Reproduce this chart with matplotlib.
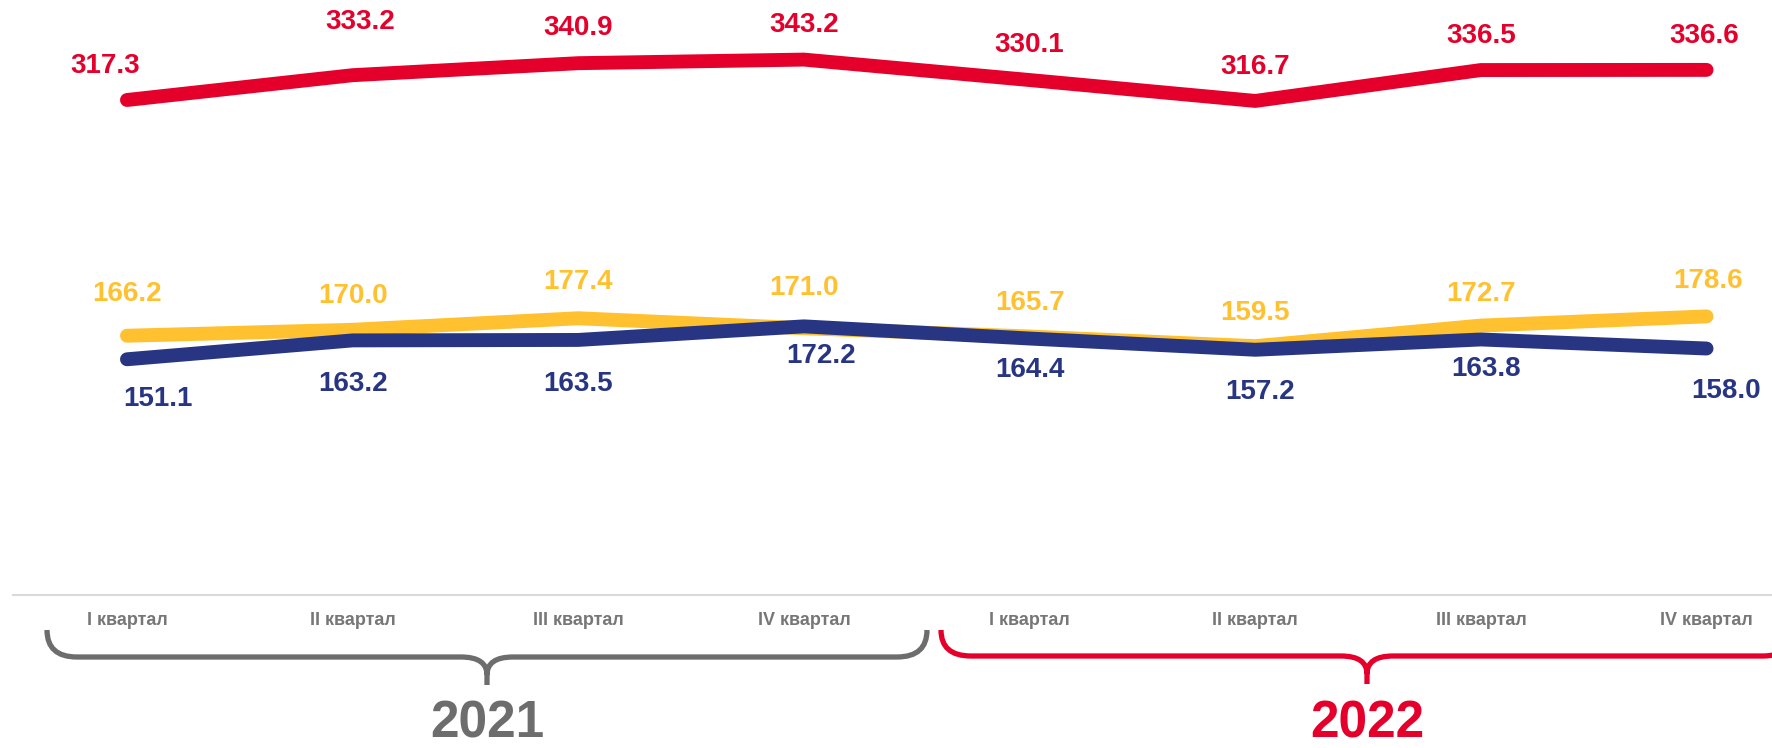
import matplotlib
matplotlib.use('Agg')
import matplotlib.pyplot as plt
from matplotlib.path import Path
from matplotlib.patches import PathPatch

plt.rcParams['font.family'] = ['Liberation Sans', 'DejaVu Sans']
plt.rcParams['font.weight'] = 'bold'

# data
quarters = ['I квартал', 'II квартал', 'III квартал', 'IV квартал',
            'I квартал', 'II квартал', 'III квартал', 'IV квартал']
years = ['2021', '2022']
red_vals = [317.3, 333.2, 340.9, 343.2, 330.1, 316.7, 336.5, 336.6]
yellow_vals = [166.2, 170.0, 177.4, 171.0, 165.7, 159.5, 172.7, 178.6]
blue_vals = [151.1, 163.2, 163.5, 172.2, 164.4, 157.2, 163.8, 158.0]

RED = '#E4002B'
YELLOW = '#FFC12F'
BLUE = '#283583'
GRAY = '#6D6D6D'

# label offsets in pixels (dx, dy), dy positive = up
red_off = [(-22, 34), (8, 53), (0, 35), (0, 35), (0, 35), (0, 34), (0, 34), (-2, 34)]
yellow_off = [(0, 42), (0, 34), (0, 36), (0, 40), (0, 34), (0, 33), (0, 32), (2, 35)]
blue_off = [(31, -40), (0, -44), (0, -44), (17, -30), (0, -31), (5, -42), (5, -30), (20, -42)]

fig = plt.figure(figsize=(17.72, 7.48), dpi=100)
ax = fig.add_axes([13 / 1772, 153 / 748, 1 - 13 / 1772, 595 / 748])

x = list(range(len(quarters)))
for vals, col, offs in [(red_vals, RED, red_off),
                        (yellow_vals, YELLOW, yellow_off),
                        (blue_vals, BLUE, blue_off)]:
    ax.plot(x, vals, color=col, lw=10, solid_capstyle='round',
            solid_joinstyle='round')
    for xi, v, (dx, dy) in zip(x, vals, offs):
        ax.annotate(f'{v:.1f}', (xi, v), xytext=(dx, dy),
                    textcoords='offset pixels', ha='center', va='center',
                    color=col, fontsize=20, fontweight='bold')

ax.set_xlim(-0.505, 7.29)
ax.set_ylim(0, 381.4)
ax.set_yticks([])
for s in ['top', 'right', 'left']:
    ax.spines[s].set_visible(False)
ax.spines['bottom'].set_color('#D9D9D9')
ax.spines['bottom'].set_linewidth(1.5)
ax.set_xticks(x)
ax.set_xticklabels(quarters, fontsize=13, color='#777777', fontweight='bold')
ax.tick_params(axis='x', length=0, pad=12)

# overlay in figure pixels for braces and year captions
ov = fig.add_axes([0, 0, 1, 1])
ov.set_xlim(0, 1772)
ov.set_ylim(748, 0)
ov.axis('off')


def brace(x0, x1, ytop, ybar, ytip, r=30, w=26, color=GRAY):
    xm = (x0 + x1) / 2
    verts = [(x0, ytop), (x0, ybar), (x0 + r, ybar),
             (xm - w, ybar),
             (xm, ybar), (xm, ytip - 10),
             (xm, ytip),
             (xm, ytip - 10),
             (xm, ybar), (xm + w, ybar),
             (x1 - r, ybar),
             (x1, ybar), (x1, ytop)]
    codes = [Path.MOVETO, Path.CURVE3, Path.CURVE3,
             Path.LINETO,
             Path.CURVE3, Path.CURVE3,
             Path.LINETO,
             Path.MOVETO,
             Path.CURVE3, Path.CURVE3,
             Path.LINETO,
             Path.CURVE3, Path.CURVE3]
    ov.add_patch(PathPatch(Path(verts, codes), fill=False, edgecolor=color,
                           lw=3.8, capstyle='butt', joinstyle='round'))
    return xm


m1 = brace(47, 927, 630, 657, 685, color=GRAY)
m2 = brace(941, 1793, 630, 656, 684, color=RED)
ov.text(m1, 700, years[0], ha='center', va='top', fontsize=37,
        fontweight='bold', color=GRAY)
ov.text(m2, 700, years[1], ha='center', va='top', fontsize=37,
        fontweight='bold', color=RED)

fig.savefig('out.png', dpi=100)
